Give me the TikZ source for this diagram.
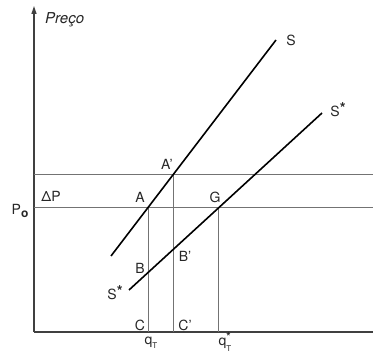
\documentclass[tikz,border=0pt]{standalone}
\usepackage{fontspec}
\setmainfont{TeX Gyre Heros}
\usetikzlibrary{arrows.meta}
\newcommand{\stR}{\raisebox{0.45ex}{\fontsize{15}{15}\selectfont\bfseries *}}
\begin{document}
\begin{tikzpicture}[x=1pt,y=-1pt,
  axis/.style={line width=1.3pt,draw=black!75},
  guide/.style={line width=0.7pt,draw=black!55},
  supply/.style={line width=1.6pt,draw=black},
  lbl/.style={font=\fontsize{14}{16}\selectfont,inner sep=0pt,text=black!85}]
\useasboundingbox (0,0) rectangle (373,353);
% axes
\coordinate (O) at (34,332);
\coordinate (Ytop) at (34,6);
\coordinate (Xend) at (373,332);
\draw[axis,-{Triangle[length=8pt,width=5pt]}] (O) -- (Ytop);
\draw[axis] (O) -- (Xend);
% horizontal guides
\coordinate (H1l) at (34,174); \coordinate (H1r) at (373,174);
\coordinate (H2l) at (34,207); \coordinate (H2r) at (373,207);
\draw[guide] (H1l) -- (H1r);
\draw[guide] (H2l) -- (H2r);
% points
\coordinate (A) at (148,207);
\coordinate (Ap) at (173,174);
\coordinate (G) at (218,207);
\coordinate (C) at (148,332);
\coordinate (Cp) at (173,332);
\coordinate (Gq) at (218,332);
% vertical guides
\draw[guide] (A) -- (C);
\draw[guide] (Ap) -- (Cp);
\draw[guide] (G) -- (Gq);
% supply curves
\coordinate (S0) at (111,256); \coordinate (S1) at (276,40);
\coordinate (T0) at (129,290); \coordinate (T1) at (322,113);
\draw[supply] (S0) -- (S1);
\draw[supply] (T0) -- (T1);
% labels
\node[lbl,anchor=west,font=\fontsize{15}{17}\selectfont\itshape] (preco) at (45,20) {Preço};
\node[lbl] (lS) at (291,40) {S};
\node[lbl] (lSs) at (338,110) {S\stR};
\node[lbl] (lSs2) at (115,293) {S\stR};
\node[lbl] (lAp) at (167,164) {A'};
\node[lbl] (lA) at (140,197) {A};
\node[lbl] (lG) at (215,197) {G};
\node[lbl] (lB) at (140,268) {B};
\node[lbl] (lBp) at (185,256) {B'};
\node[lbl] (lC) at (140,325) {C};
\node[lbl] (lCp) at (185,325) {C'};
\node[lbl] (lDP) at (51,196) {ΔP};
\node[lbl] (lP0) at (20,211) {P\raisebox{-0.5ex}{\fontsize{12}{12}\selectfont\bfseries o}};
\node[lbl] (lqT) at (151,343) {q\raisebox{-0.6ex}{\fontsize{8}{8}\selectfont T}};
\node[lbl] (lqTs) at (225,342) {q\rlap{\raisebox{0.7ex}{\fontsize{11}{11}\selectfont\bfseries *}}\raisebox{-0.8ex}{\fontsize{8}{8}\selectfont T}};
\end{tikzpicture}
\end{document}
